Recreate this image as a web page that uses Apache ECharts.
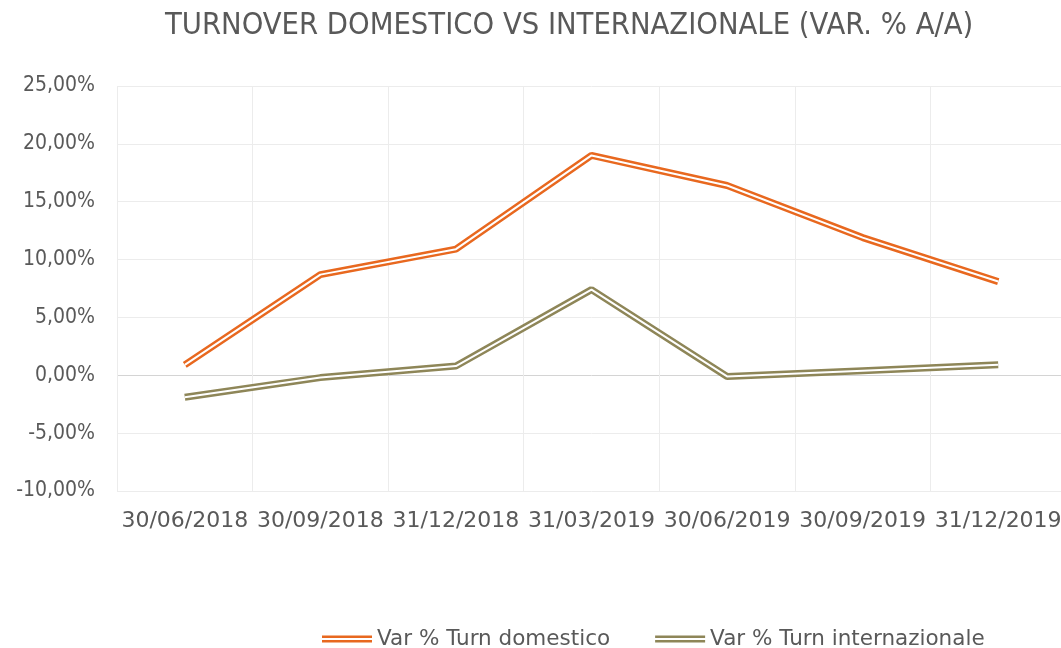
<!DOCTYPE html>
<html>
<head>
<meta charset="utf-8">
<script src="https://cdn.jsdelivr.net/npm/echarts@6/dist/echarts.min.js"></script>
<style>
  html, body { margin: 0; padding: 0; background: #fff; overflow: hidden; }
  /* il grafico originale e' tagliato a destra: contenitore un po' piu' largo */
  #chart { width: 1066px; height: 648px; }
</style>
</head>
<body>
<div id="chart"></div>
<script>
// dati
var categories = ['30/06/2018', '30/09/2018', '31/12/2018', '31/03/2019', '30/06/2019', '30/09/2019', '31/12/2019'];
var domestico = [0.9, 8.7, 10.9, 19.0, 16.4, 11.9, 8.1];
var internazionale = [-1.9, -0.2, 0.8, 7.4, -0.1, 0.4, 0.9];
var nomi = ['Var % Turn domestico', 'Var % Turn internazionale'];
var colori = ['#E8681F', '#8E8658'];

var font = 'DejaVu Sans';
var fontCond = 'DejaVu Sans Condensed';
var grigio = '#595959';
// icona legenda a doppia linea
var doppia = 'path://M0,0 H50 V2.5 H0 Z M0,4.5 H50 V7 H0 Z';

function doppiaLinea(nome, dati, colore) {
    // linea spessa colorata + linea bianca sottile sopra = effetto doppio
    return [
        {
            name: nome, type: 'line', data: dati, symbol: 'none',
            lineStyle: { color: colore, width: 7 }, itemStyle: { color: colore },
            z: 2
        },
        {
            name: nome + '_w', type: 'line', data: dati, symbol: 'none',
            lineStyle: { color: '#fff', width: 2 }, silent: true,
            z: 3
        }
    ];
}

var chart = echarts.init(document.getElementById('chart'));
chart.setOption({
    animation: false,
    title: {
        text: 'TURNOVER DOMESTICO VS INTERNAZIONALE (VAR. % A/A)',
        left: 160, top: 6,
        textStyle: { fontFamily: fontCond, fontSize: 30.6, fontWeight: 'normal', color: grigio }
    },
    legend: {
        data: [
            { name: nomi[0], icon: doppia, itemStyle: { color: colori[0] } },
            { name: nomi[1], icon: doppia, itemStyle: { color: colori[1] } }
        ],
        left: 317, top: 623,
        itemWidth: 50, itemHeight: 7, itemGap: 45,
        textStyle: { fontFamily: font, fontSize: 21.5, color: grigio }
    },
    grid: { left: 117, top: 86, right: 0, bottom: 157 },
    xAxis: {
        type: 'category',
        data: categories,
        boundaryGap: true,
        axisLine: { show: false },
        axisTick: { show: false },
        splitLine: { show: true, lineStyle: { color: '#ececec', width: 1 } },
        axisLabel: { fontFamily: font, fontSize: 22, color: grigio, margin: 19, interval: 0 }
    },
    yAxis: {
        type: 'value',
        min: -10, max: 25, interval: 5,
        axisLine: { show: false },
        axisTick: { show: false },
        splitLine: {
            lineStyle: {
                color: ['#ececec', '#ececec', '#d4d4d4', '#ececec', '#ececec', '#ececec', '#ececec', '#ececec'],
                width: 1
            }
        },
        axisLabel: {
            fontFamily: fontCond, fontSize: 21, color: grigio, margin: 22,
            formatter: function (v) { return v.toFixed(2).replace('.', ',') + '%'; }
        }
    },
    series: [].concat(
        doppiaLinea(nomi[0], domestico, colori[0]),
        doppiaLinea(nomi[1], internazionale, colori[1])
    )
});
</script>
</body>
</html>
